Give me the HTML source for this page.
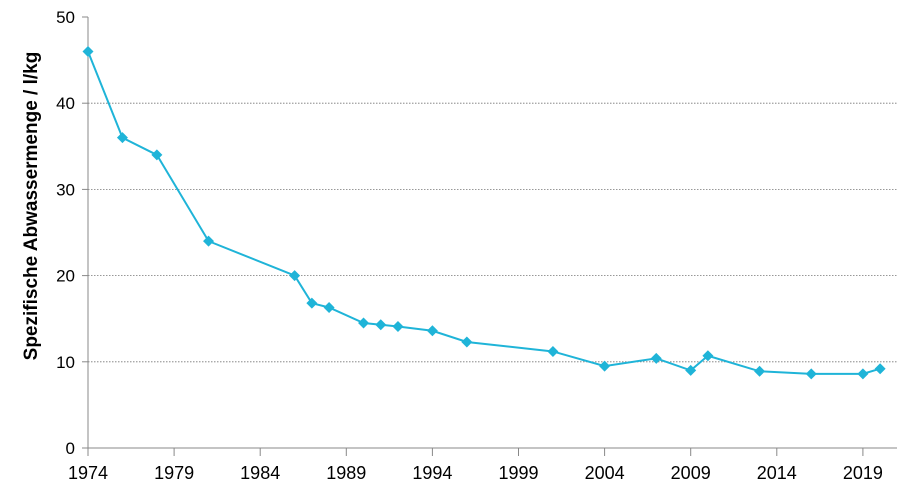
<!DOCTYPE html>
<html><head><meta charset="utf-8"><style>
body{margin:0;background:#fff}
svg{display:block;font-family:"Liberation Sans",sans-serif}
</style></head><body>
<svg width="914" height="497" xmlns="http://www.w3.org/2000/svg">
<g id="grid"></g><g id="axes"></g><g id="series"></g>
<text transform="translate(37,206) rotate(-90)" text-anchor="middle" font-size="19" font-weight="bold" fill="#000">Spezifische Abwassermenge / l/kg</text>
</svg>
<script>
const years=[1974,1976,1978,1981,1986,1987,1988,1990,1991,1992,1994,1996,2001,2004,2007,2009,2010,2013,2016,2019,2020];
const values=[46,36,34,24,20,16.8,16.3,14.5,14.3,14.1,13.6,12.3,11.2,9.5,10.4,9.0,10.7,8.9,8.6,8.6,9.2];
const xTicks=[1974,1979,1984,1989,1994,1999,2004,2009,2014,2019];
const yTicks=[0,10,20,30,40,50];
const NS="http://www.w3.org/2000/svg";
const x=v=>88+(v-1974)*17.22;
const y=v=>448-v*8.62;
function mk(t,a,p){const e=document.createElementNS(NS,t);for(const k in a)e.setAttribute(k,a[k]);p.appendChild(e);return e;}
const grid=document.getElementById('grid'),axes=document.getElementById('axes'),ser=document.getElementById('series');
yTicks.forEach(v=>{
  if(v>0&&v<50){const g=mk('line',{x1:88,x2:897,y1:y(v),y2:y(v),stroke:'#777','stroke-width':0.8,'stroke-dasharray':'1.5,1.5'},grid);
  
  }
  const tk=mk('line',{x1:82,x2:88,y1:y(v),y2:y(v),stroke:'#888'},axes);
  
  
  const t=mk('text',{x:75,y:y(v)+6,'text-anchor':'end','font-size':17,fill:'#000'},axes);t.textContent=v;
  
  
});
xTicks.forEach(v=>{
  const tk=mk('line',{x1:x(v),x2:x(v),y1:448,y2:456,stroke:'#888'},axes);
  
  
  const t=mk('text',{x:x(v),y:479,'text-anchor':'middle','font-size':18,fill:'#000'},axes);t.textContent=v;
  
  
});
const ya=mk('line',{x1:88,x2:88,y1:17,y2:448,stroke:'#888'},axes);


const xa=mk('line',{x1:82,x2:897,y1:448,y2:448,stroke:'#888'},axes);


const pl=mk('polyline',{points:years.map((d,i)=>x(d)+','+y(values[i])).join(' '),fill:'none',stroke:'#1fb4d8','stroke-width':2},ser);


years.forEach((d,i)=>{
  const cx=x(d),cy=y(values[i]),s=5.5;
  const m=mk('polygon',{points:`${cx},${cy-s} ${cx+s},${cy} ${cx},${cy+s} ${cx-s},${cy}`,fill:'#1fb4d8'},ser);
  
  
});
</script>
</body></html>
